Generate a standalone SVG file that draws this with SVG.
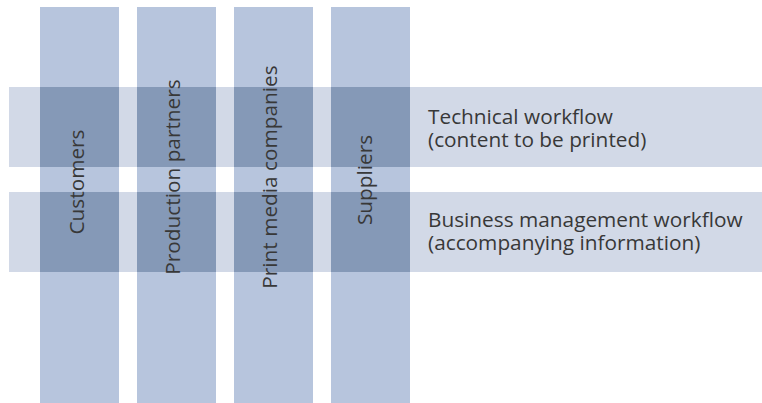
<svg xmlns="http://www.w3.org/2000/svg" width="762" height="403" viewBox="0 0 762 403">
  <style>
    .col { fill: #b7c5dd; }
    .band { fill: #d2d9e7; }
    .over { fill: #8599b7; }
    .lbl { font-family: "Open Sans", "Noto Sans", "DejaVu Sans", sans-serif; font-size: 20.8px; fill: #383838; }
    .vlbl { text-anchor: middle; }
  </style>
  <rect width="762" height="403" fill="#ffffff"/>
  <g id="bands">
    <g id="band-technical">
      <rect class="band" x="9" y="87" width="753" height="80"/>
      <text class="lbl" x="428" y="124">Technical workflow<tspan x="428" y="147">(content to be printed)</tspan></text>
    </g>
    <g id="band-business">
      <rect class="band" x="9" y="192" width="753" height="80"/>
      <text class="lbl" x="428" y="226.5">Business management workflow<tspan x="428" y="249.5">(accompanying information)</tspan></text>
    </g>
  </g>
  <g id="columns">
    <g id="col-customers">
      <rect class="col" x="40" y="7" width="79" height="396"/>
      <rect class="over" x="40" y="87" width="79" height="80"/>
      <rect class="over" x="40" y="192" width="79" height="80"/>
    </g>
    <g id="col-production">
      <rect class="col" x="137" y="7" width="79" height="396"/>
      <rect class="over" x="137" y="87" width="79" height="80"/>
      <rect class="over" x="137" y="192" width="79" height="80"/>
    </g>
    <g id="col-print">
      <rect class="col" x="234" y="7" width="79" height="396"/>
      <rect class="over" x="234" y="87" width="79" height="80"/>
      <rect class="over" x="234" y="192" width="79" height="80"/>
    </g>
    <g id="col-suppliers">
      <rect class="col" x="331" y="7" width="79" height="396"/>
      <rect class="over" x="331" y="87" width="79" height="80"/>
      <rect class="over" x="331" y="192" width="79" height="80"/>
    </g>
  </g>
  <g id="connectors"/>
  <g id="column-labels">
    <text class="lbl vlbl" transform="translate(83.5,182) rotate(-90)">Customers</text>
    <text class="lbl vlbl" transform="translate(179.5,177) rotate(-90)">Production partners</text>
    <text class="lbl vlbl" transform="translate(276.5,177) rotate(-90)">Print media companies</text>
    <text class="lbl vlbl" transform="translate(372,180) rotate(-90)">Suppliers</text>
  </g>
</svg>
